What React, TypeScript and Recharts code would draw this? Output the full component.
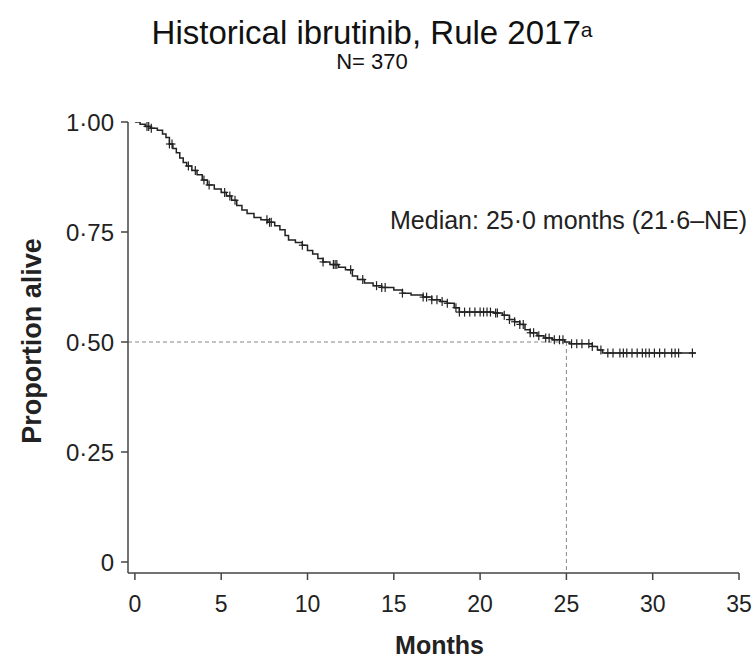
import { ComposedChart, Line, Scatter, XAxis, YAxis, ReferenceLine } from "recharts";

const W = 752;
const H = 659;
const FONT = "'Liberation Sans', Arial, sans-serif";

// Kaplan-Meier step points (months, proportion alive)
const curveTimes = [
  0, 0.3, 0.6, 0.9, 1.3, 1.6, 1.8, 2.0, 2.2, 2.4, 2.6, 2.8, 3.0, 3.3, 3.6, 3.9, 4.2, 4.6, 5.0, 5.3, 5.6, 5.9,
  6.2, 6.5, 6.9, 7.3, 7.7, 8.1, 8.4, 8.7, 8.9, 9.3, 9.7, 10.0, 10.3, 10.6, 10.9, 11.3, 11.8, 12.2, 12.6, 12.9,
  13.3, 13.8, 14.3, 15.0, 15.5, 16.0, 16.7, 17.2, 17.7, 18.1, 18.5, 18.8, 20.8, 21.3, 21.7, 22.0, 22.3, 22.6,
  22.9, 23.3, 23.7, 24.2, 24.9, 25.2, 26.5, 26.8, 27.1, 32.5,
];
const curveSurv = [
  1.0, 0.995, 0.99, 0.986, 0.981, 0.973, 0.965, 0.95, 0.94, 0.93, 0.918, 0.908, 0.9, 0.89, 0.88, 0.868, 0.857,
  0.848, 0.84, 0.832, 0.822, 0.81, 0.8, 0.792, 0.783, 0.778, 0.772, 0.764, 0.755, 0.742, 0.732, 0.726, 0.72,
  0.708, 0.7, 0.69, 0.682, 0.676, 0.67, 0.664, 0.65, 0.642, 0.634, 0.628, 0.624, 0.618, 0.611, 0.607, 0.602,
  0.596, 0.592, 0.588, 0.578, 0.568, 0.566, 0.561, 0.551, 0.546, 0.54, 0.528, 0.521, 0.514, 0.509, 0.505, 0.5,
  0.496, 0.49, 0.482, 0.475, 0.475,
];

// censored observations
const censorTimes = [
  0.7, 0.8, 0.95, 2.0, 2.15, 3.1, 3.5, 4.0, 4.3, 5.2, 5.5, 5.8, 7.65, 7.8, 7.9, 9.7, 10.9, 11.5, 11.6, 11.7,
  12.5, 13.2, 14.0, 14.3, 14.5, 15.5, 16.7, 16.9, 17.2, 17.5, 17.8, 18.1, 18.6, 18.8, 19.1, 19.4, 19.7, 20.0,
  20.2, 20.4, 20.6, 20.9, 21.0, 21.4, 21.7, 22.0, 22.3, 22.5, 22.9, 23.1, 23.4, 23.8, 24.0, 24.3, 24.6, 24.8,
  25.3, 25.6, 25.9, 26.3, 26.5, 27.0, 27.4, 27.7, 28.1, 28.3, 28.5, 28.8, 29.1, 29.4, 29.6, 29.8, 30.1, 30.4,
  30.7, 31.1, 31.3, 31.5, 32.3,
];
const censorSurv = [
  0.99, 0.99, 0.986, 0.95, 0.95, 0.9, 0.89, 0.868, 0.857, 0.84, 0.832, 0.822, 0.778, 0.772, 0.772, 0.72, 0.682,
  0.676, 0.676, 0.676, 0.664, 0.642, 0.628, 0.624, 0.624, 0.611, 0.602, 0.602, 0.596, 0.596, 0.592, 0.588, 0.578,
  0.568, 0.568, 0.568, 0.568, 0.568, 0.568, 0.568, 0.568, 0.566, 0.566, 0.561, 0.551, 0.546, 0.54, 0.54, 0.521,
  0.521, 0.514, 0.509, 0.509, 0.505, 0.505, 0.505, 0.496, 0.496, 0.496, 0.496, 0.49, 0.482, 0.475, 0.475, 0.475,
  0.475, 0.475, 0.475, 0.475, 0.475, 0.475, 0.475, 0.475, 0.475, 0.475, 0.475, 0.475, 0.475, 0.475,
];

const xTicks = [0, 5, 10, 15, 20, 25, 30, 35];
const yTicks = [0, 0.25, 0.5, 0.75, 1];
const yTickLabels = ["0", "0·25", "0·50", "0·75", "1·00"];

const medianMonths = 25;
const medianSurv = 0.5;

const curve = curveTimes.map((t, i) => ({ t, s: curveSurv[i] }));
const censored = censorTimes.map((t, i) => ({ t, s: censorSurv[i] }));

function Plus(props: any) {
  const { cx, cy } = props;
  if (cx == null || cy == null) return null;
  return (
    <g stroke="#222" strokeWidth={1.2}>
      <line x1={cx - 3.5} x2={cx + 3.5} y1={cy} y2={cy} />
      <line x1={cx} x2={cx} y1={cy - 4.5} y2={cy + 4.5} />
    </g>
  );
}

export default function App() {
  return (
    <div style={{ position: "absolute", left: 0, top: 0, width: W, height: H, overflow: "hidden", background: "#fff", fontFamily: FONT }}>
      <div style={{ position: "absolute", left: 0, width: W - 8, top: 16, textAlign: "center", fontSize: 33, color: "#111", lineHeight: "33px" }}>
        Historical ibrutinib, Rule 2017<sup style={{ fontSize: 21, verticalAlign: "7px", lineHeight: 0 }}>a</sup>
      </div>
      <div style={{ position: "absolute", left: 0, width: W - 8, top: 51, textAlign: "center", fontSize: 22, color: "#111", lineHeight: "22px" }}>
        N= 370
      </div>
      <ComposedChart width={W} height={H} margin={{ top: 122, right: 13, bottom: 56, left: 0 }}>
        <XAxis
          type="number"
          dataKey="t"
          domain={[-0.4, 35]}
          ticks={xTicks}
          allowDataOverflow
          height={30}
          tick={{ fontSize: 23, fill: "#222", fontFamily: FONT }}
          tickSize={7}
          tickMargin={16}
          stroke="#444"
          strokeWidth={1.5}
          tickLine={{ stroke: "#444", strokeWidth: 1.5 }}
        />
        <YAxis
          type="number"
          dataKey="s"
          domain={[-0.025, 1]}
          ticks={yTicks}
          allowDataOverflow
          width={128}
          tickFormatter={(v: number) => yTickLabels[yTicks.indexOf(v)]}
          tick={{ fontSize: 24, fill: "#222", fontFamily: FONT }}
          tickSize={7}
          tickMargin={7}
          stroke="#444"
          strokeWidth={1.5}
          tickLine={{ stroke: "#444", strokeWidth: 1.5 }}
        />
        <ReferenceLine
          segment={[{ x: -0.4, y: medianSurv }, { x: medianMonths, y: medianSurv }]}
          stroke="#888"
          strokeDasharray="4 3"
          strokeWidth={1}
        />
        <ReferenceLine
          segment={[{ x: medianMonths, y: medianSurv }, { x: medianMonths, y: -0.025 }]}
          stroke="#888"
          strokeDasharray="4 3"
          strokeWidth={1}
        />
        <Line
          data={curve}
          dataKey="s"
          type="stepAfter"
          stroke="#222"
          strokeWidth={1.5}
          dot={false}
          isAnimationActive={false}
        />
        <Scatter data={censored} dataKey="s" shape={<Plus />} isAnimationActive={false} />
      </ComposedChart>
      <div style={{ position: "absolute", left: 390, top: 206, fontSize: 25, color: "#222", whiteSpace: "nowrap", lineHeight: "29px" }}>
        Median: 25·0 months (21·6–NE)
      </div>
      <div style={{ position: "absolute", left: 134, width: 611, top: 630, textAlign: "center", fontSize: 25, fontWeight: "bold", color: "#222", lineHeight: "30px" }}>
        Months
      </div>
      <div
        style={{
          position: "absolute",
          left: 32,
          top: 341,
          transform: "translate(-50%, -50%) rotate(-90deg)",
          fontSize: 27,
          fontWeight: "bold",
          color: "#222",
          whiteSpace: "nowrap",
        }}
      >
        Proportion alive
      </div>
    </div>
  );
}
